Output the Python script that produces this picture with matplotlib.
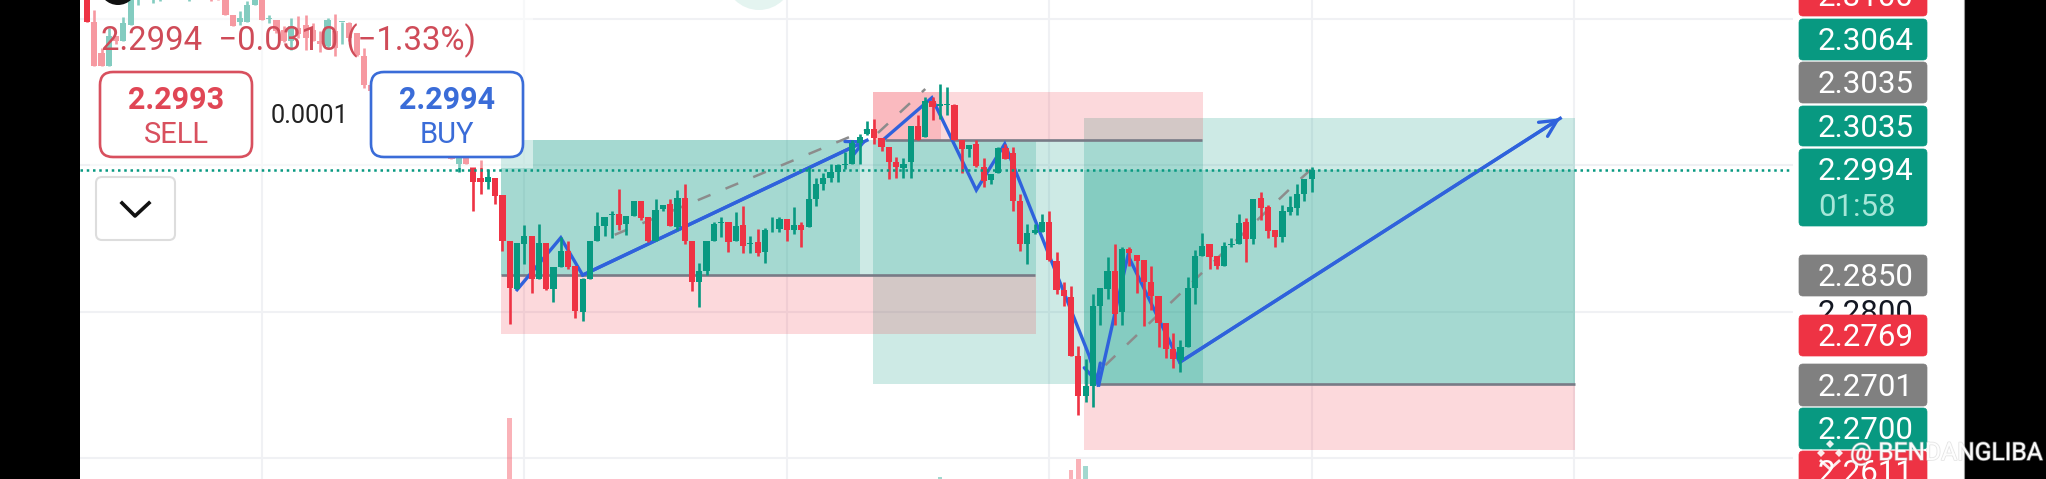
import numpy as np
import matplotlib
matplotlib.use('Agg')
import matplotlib.pyplot as plt
import matplotlib.patheffects as pe
from matplotlib.patches import Rectangle, FancyBboxPatch, Circle, Polygon

plt.rcParams['font.family'] = ['Roboto', 'DejaVu Sans']

GREEN = '#089981'
RED = '#ee3344'
BLUE = '#2f62dc'
GREY = '#787b86'

# older bars, bar number counted back from the first bar of the main list
hist_idx = [-53, -52, -51, -50, -49, -48, -47, -46, -44, -43, -39, -36, -35, -34, -33, -32, -31, -30, -29, -28,
            -27, -26, -25, -24, -23, -22, -21, -20, -19, -18, -17, -16, -15, -14, -13, -12, -11, -10, -9, -8,
            -7, -6, -5, -4, -3, -2, -1]
hist_open = [2.3235, 2.3196, 2.3153, 2.3136, 2.3177, 2.3169, 2.3191, 2.3225, 2.3227, 2.3227, 2.3227, 2.3228, 2.3228, 2.3232, 2.3205, 2.3195, 2.3196, 2.3218, 2.3232, 2.3199,
             2.3198, 2.3184, 2.3170, 2.3187, 2.3191, 2.3184, 2.3170, 2.3162, 2.3183, 2.3195, 2.3194, 2.3180, 2.3149, 2.3109, 2.3101, 2.3092, 2.3085, 2.3077, 2.3069, 2.3062,
             2.3054, 2.3046, 2.3029, 2.3016, 2.3020, 2.3002, 2.3012]
hist_high = [2.3237, 2.3212, 2.3160, 2.3187, 2.3177, 2.3202, 2.3235, 2.3228, 2.3228, 2.3228, 2.3228, 2.3228, 2.3228, 2.3232, 2.3205, 2.3210, 2.3224, 2.3232, 2.3232, 2.3205,
             2.3198, 2.3190, 2.3201, 2.3203, 2.3205, 2.3194, 2.3183, 2.3201, 2.3207, 2.3196, 2.3196, 2.3180, 2.3160, 2.3109, 2.3101, 2.3092, 2.3085, 2.3077, 2.3069, 2.3062,
             2.3054, 2.3046, 2.3029, 2.3023, 2.3020, 2.3023, 2.3012]
hist_low = [2.3196, 2.3136, 2.3135, 2.3136, 2.3166, 2.3169, 2.3191, 2.3218, 2.3221, 2.3224, 2.3224, 2.3224, 2.3225, 2.3205, 2.3190, 2.3191, 2.3196, 2.3218, 2.3198, 2.3194,
            2.3180, 2.3168, 2.3157, 2.3173, 2.3157, 2.3170, 2.3155, 2.3160, 2.3149, 2.3166, 2.3170, 2.3149, 2.3105, 2.3101, 2.3092, 2.3085, 2.3077, 2.3069, 2.3062, 2.3054,
            2.3046, 2.3029, 2.3012, 2.3016, 2.3009, 2.2991, 2.3002]
hist_close = [2.3196, 2.3136, 2.3135, 2.3176, 2.3169, 2.3194, 2.3235, 2.3228, 2.3228, 2.3228, 2.3228, 2.3227, 2.3227, 2.3205, 2.3190, 2.3201, 2.3218, 2.3232, 2.3198, 2.3201,
              2.3183, 2.3169, 2.3190, 2.3179, 2.3173, 2.3170, 2.3166, 2.3198, 2.3160, 2.3196, 2.3173, 2.3150, 2.3109, 2.3101, 2.3092, 2.3085, 2.3077, 2.3069, 2.3062, 2.3054,
              2.3046, 2.3029, 2.3012, 2.3023, 2.3009, 2.3013, 2.3002]

bar_open = [2.2998, 2.2982, 2.2977, 2.2983, 2.2959, 2.2897, 2.2831, 2.2893, 2.2903, 2.2845,
            2.2894, 2.2831, 2.2861, 2.2883, 2.2862, 2.2800, 2.2845, 2.2897, 2.2917, 2.2932,
            2.2933, 2.2920, 2.2931, 2.2951, 2.2929, 2.2896, 2.2940, 2.2947, 2.2915, 2.2955,
            2.2897, 2.2841, 2.2855, 2.2897, 2.2921, 2.2923, 2.2896, 2.2919, 2.2892, 2.2895,
            2.2881, 2.2915, 2.2913, 2.2926, 2.2911, 2.2919, 2.2915, 2.2954, 2.2974, 2.2983,
            2.2991, 2.3000, 2.3002, 2.3030, 2.3043, 2.3050, 2.3037, 2.3025, 2.3005, 2.2996,
            2.3004, 2.3053, 2.3038, 2.3088, 2.3081, 2.3082, 2.3082, 2.3034, 2.3022, 2.3029,
            2.2997, 2.2980, 2.2989, 2.3023, 2.3017, 2.2951, 2.2892, 2.2907, 2.2909, 2.2922,
            2.2869, 2.2830, 2.2820, 2.2739, 2.2685, 2.2699, 2.2808, 2.2831, 2.2856, 2.2799,
            2.2885, 2.2878, 2.2871, 2.2840, 2.2821, 2.2785, 2.2749, 2.2734, 2.2752, 2.2833,
            2.2876, 2.2892, 2.2876, 2.2862, 2.2891, 2.2893, 2.2922, 2.2899, 2.2955, 2.2943,
            2.2911, 2.2902, 2.2936, 2.2942, 2.2961, 2.2981]
bar_high = [2.2998, 2.3007, 2.2995, 2.2983, 2.2959, 2.2897, 2.2894, 2.2918, 2.2903, 2.2920,
            2.2894, 2.2861, 2.2902, 2.2897, 2.2862, 2.2846, 2.2896, 2.2936, 2.2929, 2.2937,
            2.2968, 2.2931, 2.2951, 2.2951, 2.2929, 2.2954, 2.2946, 2.2954, 2.2966, 2.2974,
            2.2897, 2.2867, 2.2896, 2.2922, 2.2929, 2.2923, 2.2936, 2.2944, 2.2904, 2.2913,
            2.2914, 2.2929, 2.2929, 2.2926, 2.2943, 2.2922, 2.2998, 2.2982, 2.2989, 2.3002,
            2.3002, 2.3018, 2.3034, 2.3043, 2.3060, 2.3063, 2.3037, 2.3025, 2.3011, 2.3010,
            2.3053, 2.3068, 2.3093, 2.3093, 2.3111, 2.3107, 2.3084, 2.3034, 2.3028, 2.3035,
            2.3010, 2.2988, 2.3025, 2.3029, 2.3025, 2.2961, 2.2920, 2.2920, 2.2933, 2.2938,
            2.2882, 2.2840, 2.2835, 2.2753, 2.2735, 2.2824, 2.2833, 2.2875, 2.2892, 2.2888,
            2.2888, 2.2878, 2.2871, 2.2862, 2.2821, 2.2785, 2.2771, 2.2762, 2.2848, 2.2884,
            2.2908, 2.2892, 2.2876, 2.2895, 2.2901, 2.2933, 2.2928, 2.2954, 2.2964, 2.2945,
            2.2911, 2.2945, 2.2958, 2.2975, 2.2981, 2.2998]
bar_low = [2.2938, 2.2961, 2.2968, 2.2947, 2.2883, 2.2783, 2.2831, 2.2865, 2.2825, 2.2845,
           2.2830, 2.2813, 2.2861, 2.2858, 2.2792, 2.2788, 2.2845, 2.2897, 2.2904, 2.2900,
           2.2911, 2.2905, 2.2931, 2.2925, 2.2895, 2.2896, 2.2938, 2.2917, 2.2911, 2.2893,
           2.2828, 2.2807, 2.2850, 2.2897, 2.2902, 2.2881, 2.2896, 2.2880, 2.2880, 2.2876,
           2.2867, 2.2909, 2.2909, 2.2896, 2.2906, 2.2888, 2.2915, 2.2944, 2.2966, 2.2977,
           2.2977, 2.2995, 2.3002, 2.3002, 2.3041, 2.3029, 2.3020, 2.2981, 2.2983, 2.2982,
           2.2982, 2.3034, 2.3038, 2.3061, 2.3063, 2.3068, 2.3034, 2.2990, 2.3011, 2.2997,
           2.2970, 2.2974, 2.2989, 2.3008, 2.2938, 2.2883, 2.2865, 2.2906, 2.2909, 2.2869,
           2.2824, 2.2808, 2.2739, 2.2659, 2.2677, 2.2670, 2.2782, 2.2817, 2.2782, 2.2782,
           2.2862, 2.2826, 2.2780, 2.2803, 2.2752, 2.2737, 2.2723, 2.2718, 2.2752, 2.2810,
           2.2876, 2.2858, 2.2858, 2.2862, 2.2888, 2.2893, 2.2868, 2.2893, 2.2925, 2.2900,
           2.2888, 2.2895, 2.2932, 2.2932, 2.2951, 2.2964]
bar_close = [2.2977, 2.2977, 2.2984, 2.2958, 2.2897, 2.2833, 2.2894, 2.2903, 2.2845, 2.2894,
             2.2831, 2.2861, 2.2883, 2.2861, 2.2801, 2.2845, 2.2896, 2.2917, 2.2929, 2.2934,
             2.2919, 2.2931, 2.2951, 2.2928, 2.2896, 2.2939, 2.2946, 2.2917, 2.2955, 2.2897,
             2.2840, 2.2855, 2.2896, 2.2920, 2.2923, 2.2895, 2.2917, 2.2890, 2.2894, 2.2880,
             2.2912, 2.2916, 2.2927, 2.2911, 2.2918, 2.2911, 2.2954, 2.2975, 2.2983, 2.2991,
             2.3000, 2.3002, 2.3030, 2.3039, 2.3049, 2.3037, 2.3025, 2.3005, 2.2997, 2.3002,
             2.3053, 2.3035, 2.3088, 2.3079, 2.3083, 2.3083, 2.3034, 2.3022, 2.3028, 2.2999,
             2.2979, 2.2988, 2.3023, 2.3008, 2.2951, 2.2892, 2.2907, 2.2912, 2.2922, 2.2871,
             2.2830, 2.2821, 2.2739, 2.2685, 2.2699, 2.2808, 2.2833, 2.2856, 2.2797, 2.2885,
             2.2880, 2.2869, 2.2840, 2.2821, 2.2785, 2.2749, 2.2735, 2.2752, 2.2833, 2.2876,
             2.2890, 2.2875, 2.2862, 2.2890, 2.2893, 2.2921, 2.2899, 2.2954, 2.2941, 2.2910,
             2.2902, 2.2937, 2.2943, 2.2961, 2.2981, 2.2994]

vol_idx = [5, 64, 82, 83, 84]
vol_size = [61, 2, 9, 20, 13]
vol_up = [False, True, False, False, True]

# position tools: start bar, end bar, low price, high price
green_zones = [(3.8, 77.2, 2.2850, 2.3035), (3.8, 53.05, 2.2850, 2.3035),
               (54.8, 100.1, 2.2701, 2.3035),
               (83.8, 151.1, 2.2701, 2.3064), (83.8, 151.1, 2.2701, 2.2994)]
red_zones = [(3.8, 77.2, 2.2769, 2.2850),
             (54.8, 100.1, 2.3035, 2.3100), (54.8, 64.2, 2.3035, 2.3100),
             (83.8, 151.1, 2.2611, 2.2701)]
entry_lines = [(3.8, 77.0, 2.2850), (56.5, 100.0, 2.3035), (85.8, 151.1, 2.2701)]

path_x = [[6, 12, 15, 54], [56.5, 62.9, 69, 72.9, 84.6, 85.7], [85.8, 89.8, 96.9, 149.1]]
path_y = [[2.2830, 2.2901, 2.2850, 2.3034], [2.3037, 2.3092, 2.2966, 2.3029, 2.2737, 2.2700], [2.2700, 2.2877, 2.2731, 2.3064]]
dash_x = [[19.4, 53.9], [55.5, 62], [86.7, 113, 115]]
dash_y = [[2.2905, 2.3048], [2.3044, 2.3104], [2.2727, 2.2977, 2.2995]]

last_price = 2.2994
price_grid = [2.26, 2.28, 2.30, 2.32]
time_grid = [-29, 7, 43, 79, 115, 151]

label_text = ['2.3100', '2.3064', '2.3035', '2.3035', '2.2994', '2.2850', '2.2769', '2.2701', '2.2700', '2.2611']
label_color = [RED, GREEN, '#808080', GREEN, GREEN, '#808080', RED, '#808080', GREEN, RED]
label_top = [-26, 18, 61, 105, 148, 254, 314, 363, 407, 450]
label_height = [43, 43, 43, 42, 79, 43, 43, 44, 43, 43]

fig = plt.figure(figsize=(20.46, 4.79), dpi=100, facecolor='white')
ax = fig.add_axes([80 / 2046, 0, (1793 - 80) / 2046, 1])
ax.set_xlim((80 - 473.3) / 7.29, (1793 - 473.3) / 7.29)
ax.set_ylim(2.27 - 94 / 7327, 2.27 + 385 / 7327)
ax.set_xticks(time_grid)
ax.set_yticks(price_grid)
ax.grid(color='#f0f1f4', lw=1.5)
ax.set_axisbelow(True)
ax.tick_params(length=0, labelbottom=False, labelleft=False)
for s in ax.spines.values():
    s.set_visible(False)

for x0, x1, p0, p1 in green_zones:
    ax.add_patch(Rectangle((x0, p0), x1 - x0, p1 - p0, fc=GREEN, alpha=0.2, lw=0, zorder=1))
for x0, x1, p0, p1 in red_zones:
    ax.add_patch(Rectangle((x0, p0), x1 - x0, p1 - p0, fc='#f23645', alpha=0.19, lw=0, zorder=1))
for x0, x1, p in entry_lines:
    ax.plot([x0, x1], [p, p], color=GREY, lw=1.9, solid_capstyle='butt', zorder=2)

for xs, ys in zip(dash_x, dash_y):
    ax.plot(xs, ys, color='#8c8c8c', lw=1.8, dashes=(5.5, 6.5), zorder=3)
for xs, ys in zip(path_x, path_y):
    ax.plot(xs, ys, color=BLUE, lw=2.4, solid_joinstyle='miter', zorder=3)
    ax.annotate('', xy=(xs[-1], ys[-1]), xytext=(xs[-2], ys[-2]), zorder=3,
                arrowprops=dict(arrowstyle='->', color=BLUE, lw=2.4, mutation_scale=30, shrinkA=0, shrinkB=0))

idx = np.concatenate([hist_idx, np.arange(len(bar_open))])
o = np.array(hist_open + bar_open)
h = np.array(hist_high + bar_high)
l = np.array(hist_low + bar_low)
c = np.array(hist_close + bar_close)
cols = np.where(c >= o, GREEN, RED)
ax.vlines(idx, l, h, colors=cols, lw=1.9, zorder=4)
ax.bar(idx, np.maximum(np.abs(c - o), 0.00012), bottom=np.minimum(o, c), width=0.85, color=cols, zorder=5)

ax.plot(ax.get_xlim(), [last_price, last_price], color=GREEN, lw=1.8, dashes=(1, 1.5), zorder=6)

axv = ax.twinx()
axv.set_ylim(0, 479)
axv.axis('off')
axv.bar(vol_idx, vol_size, width=0.62, color=[GREEN if u else '#f23645' for u in vol_up], alpha=0.38)

# everything the trading app draws over the chart, in screen pixels
ui = fig.add_axes([0, 0, 1, 1], facecolor='none')
ui.set_xlim(0, 2046)
ui.set_ylim(479, 0)
ui.axis('off')

ui.add_patch(Rectangle((90, 0), 443, 168, fc='white', alpha=0.5, lw=0, zorder=1))
ui.add_patch(Circle((118, -14), 19, fc='#111111', zorder=2))
ui.add_patch(Circle((759, -24), 34, fc='#e4f4f0', zorder=2))

def panel(x, y, w, h, edge, lw=1.9, rad=13):
    ui.add_patch(FancyBboxPatch((x + rad, y + rad), w - 2 * rad, h - 2 * rad, boxstyle='round,pad=%d,rounding_size=%d' % (rad, rad),
                                fc='white', ec=edge, lw=lw, zorder=3))

panel(100, 72, 152, 85, '#d8505e')
panel(371, 72, 152, 85, '#3a6cd8')
panel(96, 177, 79, 63, '#dddddd', lw=1.5, rad=6)
ui.plot([122, 135, 149], [203, 216, 203], color='#111111', lw=2.6, zorder=4)

ui.text(101, 50, '2.2994  \u22120.0310 (\u22121.33%)', color='#cf4b58', fontsize=23.7, ha='left', va='baseline', zorder=4)
ui.text(176, 100, '2.2993', color='#e04655', fontsize=22, fontweight='bold', ha='center', va='center', zorder=4)
ui.text(176, 135, 'SELL', color='#d8505e', fontsize=21, ha='center', va='center', zorder=4)
ui.text(310, 116, '0.0001', color='#222222', fontsize=18.3, ha='center', va='center', zorder=4)
ui.text(447, 100, '2.2994', color='#3a6cd8', fontsize=22, fontweight='bold', ha='center', va='center', zorder=4)
ui.text(447, 135, 'BUY', color='#3a6cd8', fontsize=21, ha='center', va='center', zorder=4)

ui.text(1818, 314, '2.2800', color='#131722', fontsize=22.5, ha='left', va='center', zorder=4)
for txt, col, top, hgt in zip(label_text, label_color, label_top, label_height):
    ui.add_patch(FancyBboxPatch((1799, top + 1), 128, hgt - 2, boxstyle='round,pad=0,rounding_size=4', fc=col, ec=col, lw=0.5, zorder=5))
    cy = top + 24 if hgt == 79 else top + hgt / 2 + 2
    ui.text(1818, cy, txt, color='white', fontsize=22.5, ha='left', va='center', zorder=6)
ui.text(1818, 207, '01:58', color='#a6e6d8', fontsize=22.5, ha='left', va='center', zorder=6)

# black bars of the phone screenshot
ui.add_patch(Rectangle((0, 0), 80, 479, fc='black', lw=0, zorder=7))
ui.add_patch(Rectangle((1964, 0), 82, 479, fc='black', lw=0, zorder=7))
ui.plot([1963.5, 1963.5], [0, 479], color='#999999', lw=0.8, zorder=7)

# watermark
for dx, dy in [(0, -9), (-9, 0), (9, 0)]:
    ui.add_patch(Polygon([(1830 + dx, 453 + dy - 4), (1830 + dx + 4, 453 + dy), (1830 + dx, 453 + dy + 4), (1830 + dx - 4, 453 + dy)],
                         fc='white', lw=0, alpha=0.9, zorder=8))
ui.plot([1821, 1830, 1839], [461, 469, 461], color='white', lw=2, alpha=0.9, zorder=8)
wm = ui.text(1850, 453, '@ BENDANGLIBA', color='white', fontsize=17.7, ha='left', va='center', alpha=0.95, zorder=8)
wm.set_path_effects([pe.withStroke(linewidth=1.2, foreground='#cccccc', alpha=0.5)])

fig.savefig('out.png', dpi=100)
